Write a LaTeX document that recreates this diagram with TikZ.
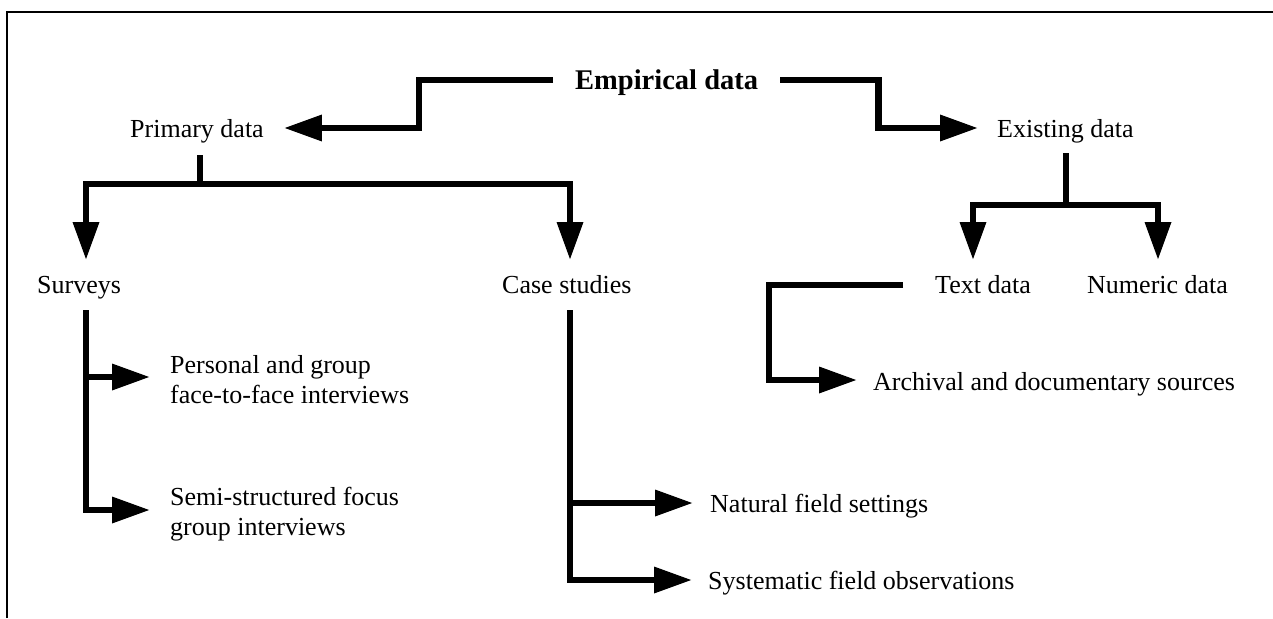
\documentclass[tikz,border=0pt]{standalone}
\usepackage{fontspec}
\setmainfont{Liberation Serif}
\usetikzlibrary{arrows.meta,calc}
\begin{document}
\begin{tikzpicture}[x=1pt,y=-1pt,
  lbl/.style={inner sep=0pt, text height=18pt, text depth=0pt, anchor=west,
              font=\fontsize{26}{30}\selectfont},
  lbltwo/.style={inner sep=0pt, anchor=base west, align=left,
              font=\fontsize{26}{30}\selectfont},
  headlbl/.style={inner sep=0pt, text height=19pt, text depth=0pt, anchor=west,
              font=\fontsize{28.5}{34}\selectfont\bfseries},
  ln/.style={line width=6.5pt},
  arr/.style={ln, -{Triangle[length=38pt,width=25pt]}},
  frame/.style={line width=2pt}]

\useasboundingbox (0,0) rectangle (1273,618);
\draw[frame] (7,618) -- (7,12) -- (1273,12);

% labels (two-line labels are placed by the baseline of their last line)
\node[headlbl] (emp)   at (575,80)  {Empirical data};
\node[lbl]     (prim)  at (130,128) {Primary data};
\node[lbl]     (exist) at (997,128) {Existing data};
\node[lbl]     (surv)  at (37,284)  {Surveys};
\node[lbl]     (case)  at (502,284) {Case studies};
\node[lbl]     (textd) at (935,284) {Text data};
\node[lbl]     (numd)  at (1087,284) {Numeric data};
\node[lbltwo]  (pers)  at (170,403) {Personal and group\\face-to-face interviews};
\node[lbltwo]  (semi)  at (170,535) {Semi-structured focus\\group interviews};
\node[lbl]     (arch)  at (873,381) {Archival and documentary sources};
\node[lbl]     (nat)   at (710,503) {Natural field settings};
\node[lbl]     (sys)   at (708,580) {Systematic field observations};

% top level split
\draw[arr] ($(emp.west)+(-22,0)$) -- ++(-134,0) |- ($(prim.east)+(20,0)$);
\draw[arr] ($(emp.east)+(22,0)$) -- ++(98,0) |- ($(exist.west)+(-19,0)$);

% primary data branches
\draw[ln] ($(prim.west)+(70,27)$) -- ($(prim.west)+(70,56)$) coordinate (pj);
\draw[arr] (pj) -| ($(surv.west)+(49,-24)$);
\draw[arr] (pj) -| ($(case.west)+(68,-24)$);

% existing data branches
\draw[ln] ($(exist.west)+(69,25)$) -- ($(exist.west)+(69,77)$) coordinate (ej);
\draw[arr] (ej) -| ($(textd.west)+(38,-24)$);
\draw[arr] (ej) -| ($(numd.west)+(71,-24)$);

% surveys
\draw[arr] ($(surv.west)+(49,26)$) |- ($(pers.base west)+(-20,-26)$);
\draw[arr] ($(surv.west)+(49,26)$) |- ($(semi.base west)+(-20,-25)$);

% case studies
\draw[arr] ($(case.west)+(68,26)$) |- ($(nat.west)+(-17,0)$);
\draw[arr] ($(case.west)+(68,26)$) |- ($(sys.west)+(-16,0)$);

% text data
\draw[arr] ($(textd.west)+(-32,1)$) -- ++(-134,0) |- ($(arch.west)+(-16,-1)$);
\end{tikzpicture}
\end{document}
